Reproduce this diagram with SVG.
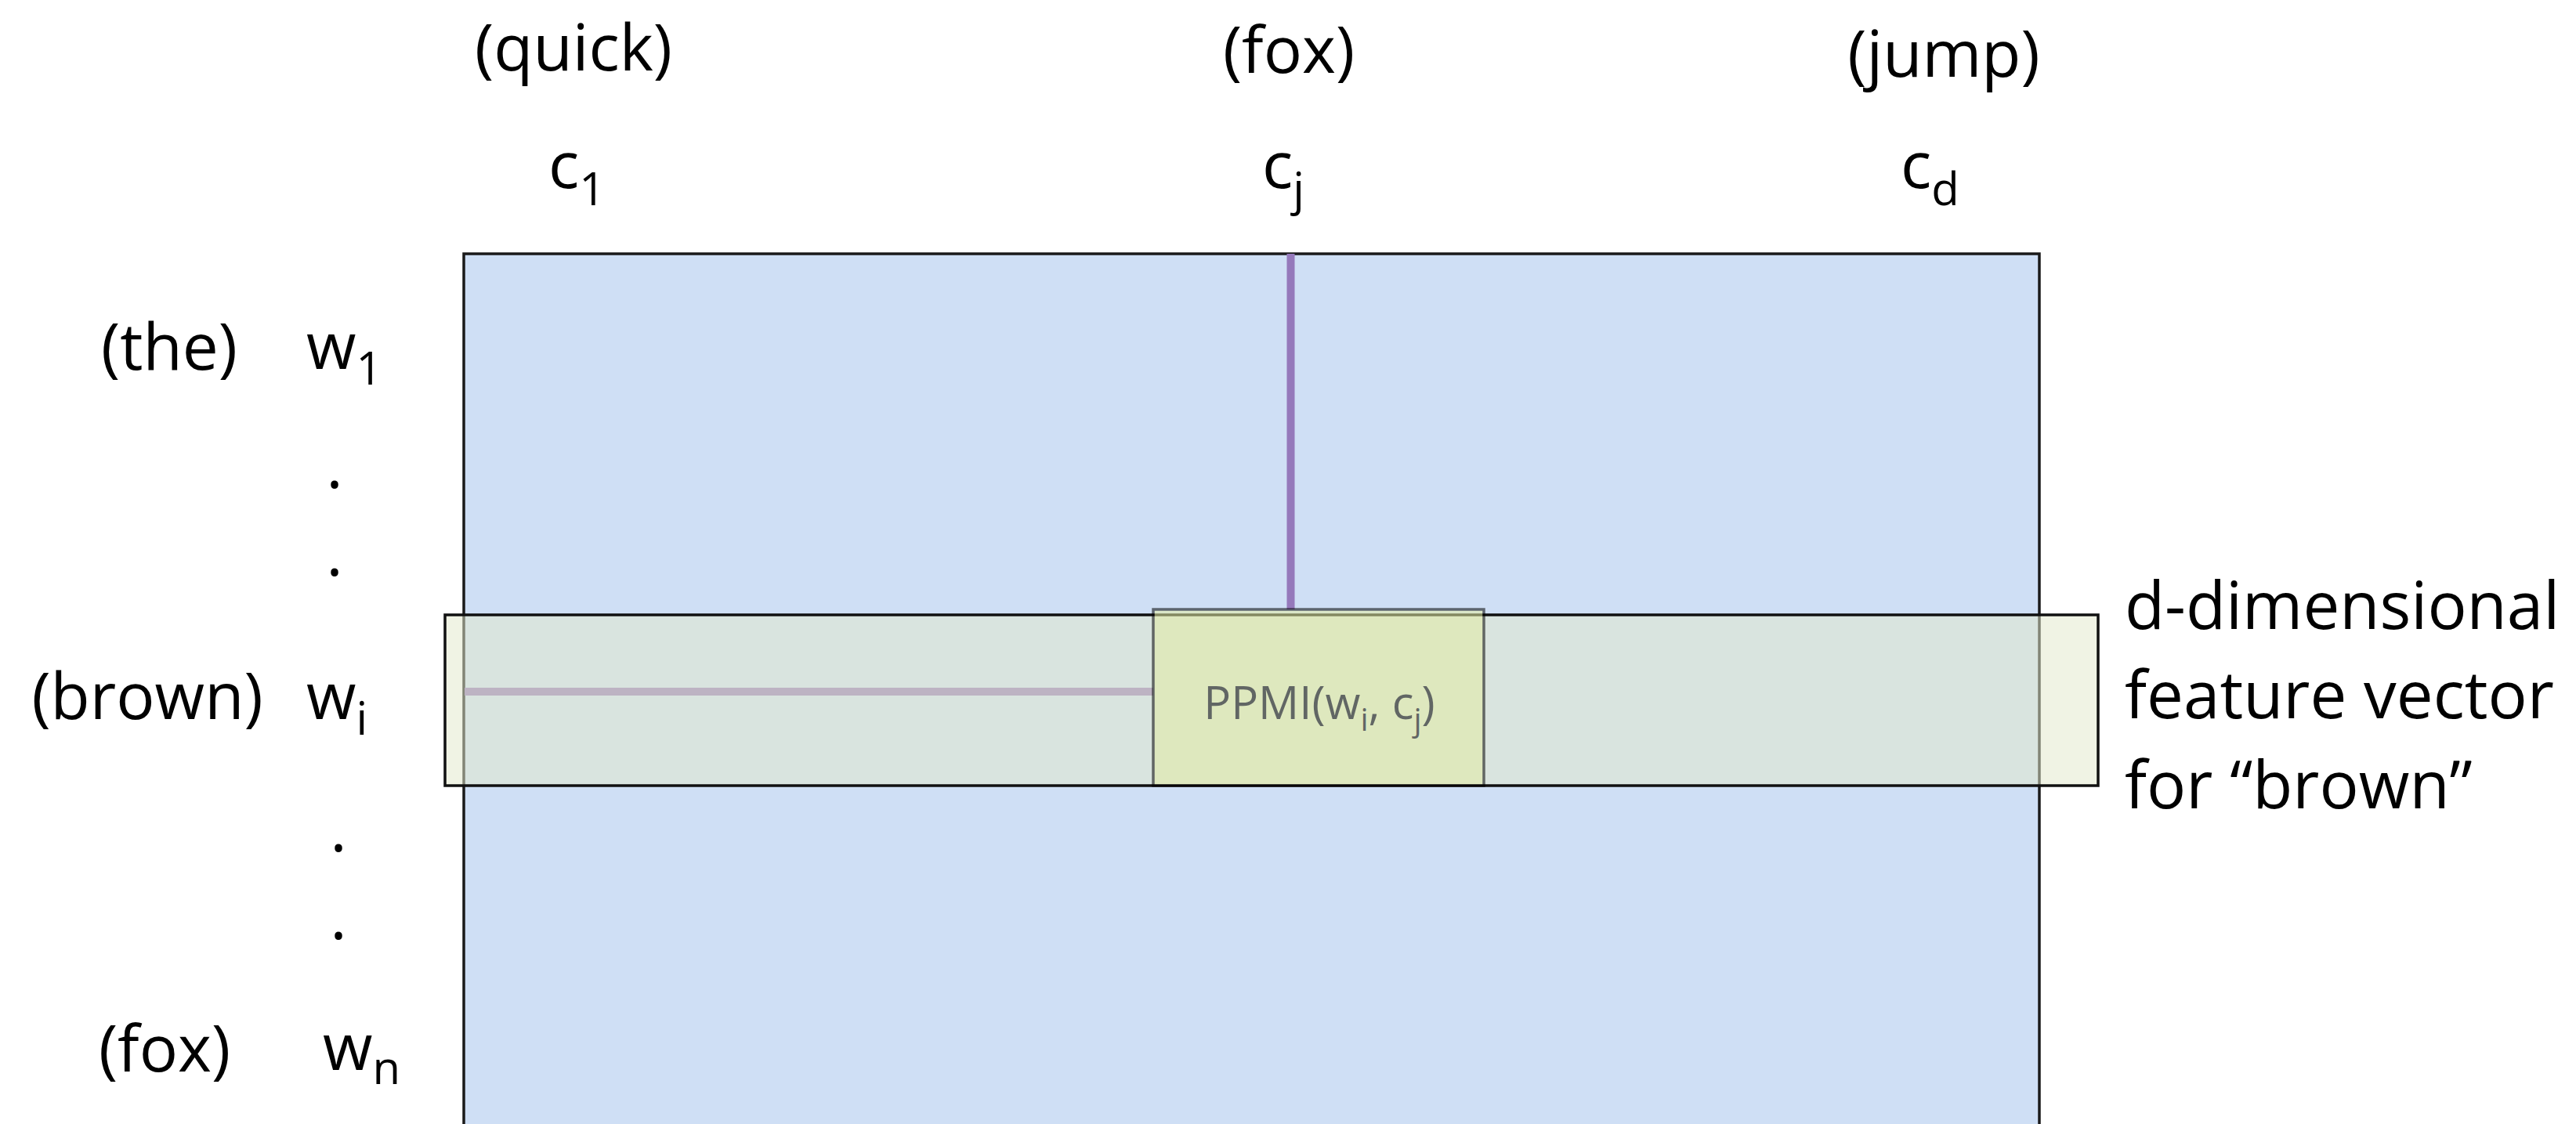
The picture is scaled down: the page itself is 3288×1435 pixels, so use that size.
<svg xmlns="http://www.w3.org/2000/svg" width="3288" height="1435" viewBox="0 0 3288 1435">
  <style>
    text { font-family: "Open Sans", "Liberation Sans", sans-serif; fill: #000; }
    .lbl { font-size: 82px; }
    .cap { font-size: 83.5px; }
    .sub { font-size: 58px; }
    .mid { text-anchor: middle; }
    .cell-text { font-size: 58px; }
    .cell-sub { font-size: 40px; }
  </style>

  <rect width="3288" height="1435" fill="#ffffff"/>

  <!-- co-occurrence matrix -->
  <g id="matrix">
    <rect x="592" y="324" width="2011" height="1200" fill="#cfdff5" stroke="#1a1a1a" stroke-width="3.5"/>
  </g>

  <!-- guide lines from row/column headers to the selected cell -->
  <g id="connectors" stroke="#9579bb" stroke-width="10" fill="none">
    <line x1="593" y1="883" x2="1472" y2="883"/>
    <line x1="1647.5" y1="324" x2="1647.5" y2="778"/>
  </g>

  <!-- highlighted row for "brown" -->
  <g id="row-brown">
    <rect x="568" y="785" width="2110" height="218" fill="#e2e8cb" fill-opacity="0.52" stroke="#111111" stroke-width="3.5"/>
  </g>

  <!-- selected cell -->
  <g id="cell-ppmi" opacity="0.55">
    <rect x="1472" y="778" width="422" height="225" fill="#e3eca4" stroke="#000000" stroke-width="3.5"/>
    <text class="cell-text mid" x="1684" y="918">PPMI(w<tspan class="cell-sub" dy="15">i</tspan><tspan dy="-15">, c</tspan><tspan class="cell-sub" dy="15">j</tspan><tspan dy="-15">)</tspan></text>
  </g>

  <!-- column headers -->
  <g id="col-1">
    <text class="lbl mid" x="732" y="90">(quick)</text>
    <text class="lbl" x="700" y="240">c<tspan class="sub" dy="22">1</tspan></text>
  </g>
  <g id="col-j">
    <text class="lbl mid" x="1645" y="93">(fox)</text>
    <text class="lbl" x="1611" y="240">c<tspan class="sub" dy="22">j</tspan></text>
  </g>
  <g id="col-d">
    <text class="lbl mid" x="2481" y="98">(jump)</text>
    <text class="lbl" x="2426" y="240">c<tspan class="sub" dy="22">d</tspan></text>
  </g>

  <!-- row headers -->
  <g id="row-1">
    <text class="lbl mid" x="216" y="472">(the)</text>
    <text class="lbl" x="391" y="471">w<tspan class="sub" dy="20">1</tspan></text>
  </g>
  <g id="row-dots-upper">
    <text class="lbl mid" x="427" y="623">.</text>
    <text class="lbl mid" x="427" y="735">.</text>
  </g>
  <g id="row-i">
    <text class="lbl mid" x="188" y="918">(brown)</text>
    <text class="lbl" x="391" y="918">w<tspan class="sub" dy="20">i</tspan></text>
  </g>
  <g id="row-dots-lower">
    <text class="lbl mid" x="432" y="1087">.</text>
    <text class="lbl mid" x="432" y="1199">.</text>
  </g>
  <g id="row-n">
    <text class="lbl mid" x="210" y="1368">(fox)</text>
    <text class="lbl" x="412" y="1366">w<tspan class="sub" dy="18">n</tspan></text>
  </g>

  <!-- caption for the highlighted row -->
  <g id="caption">
    <text class="cap" x="2712" y="803">d-dimensional</text>
    <text class="cap" x="2712" y="917">feature vector</text>
    <text class="cap" x="2712" y="1032">for “brown”</text>
  </g>
</svg>
